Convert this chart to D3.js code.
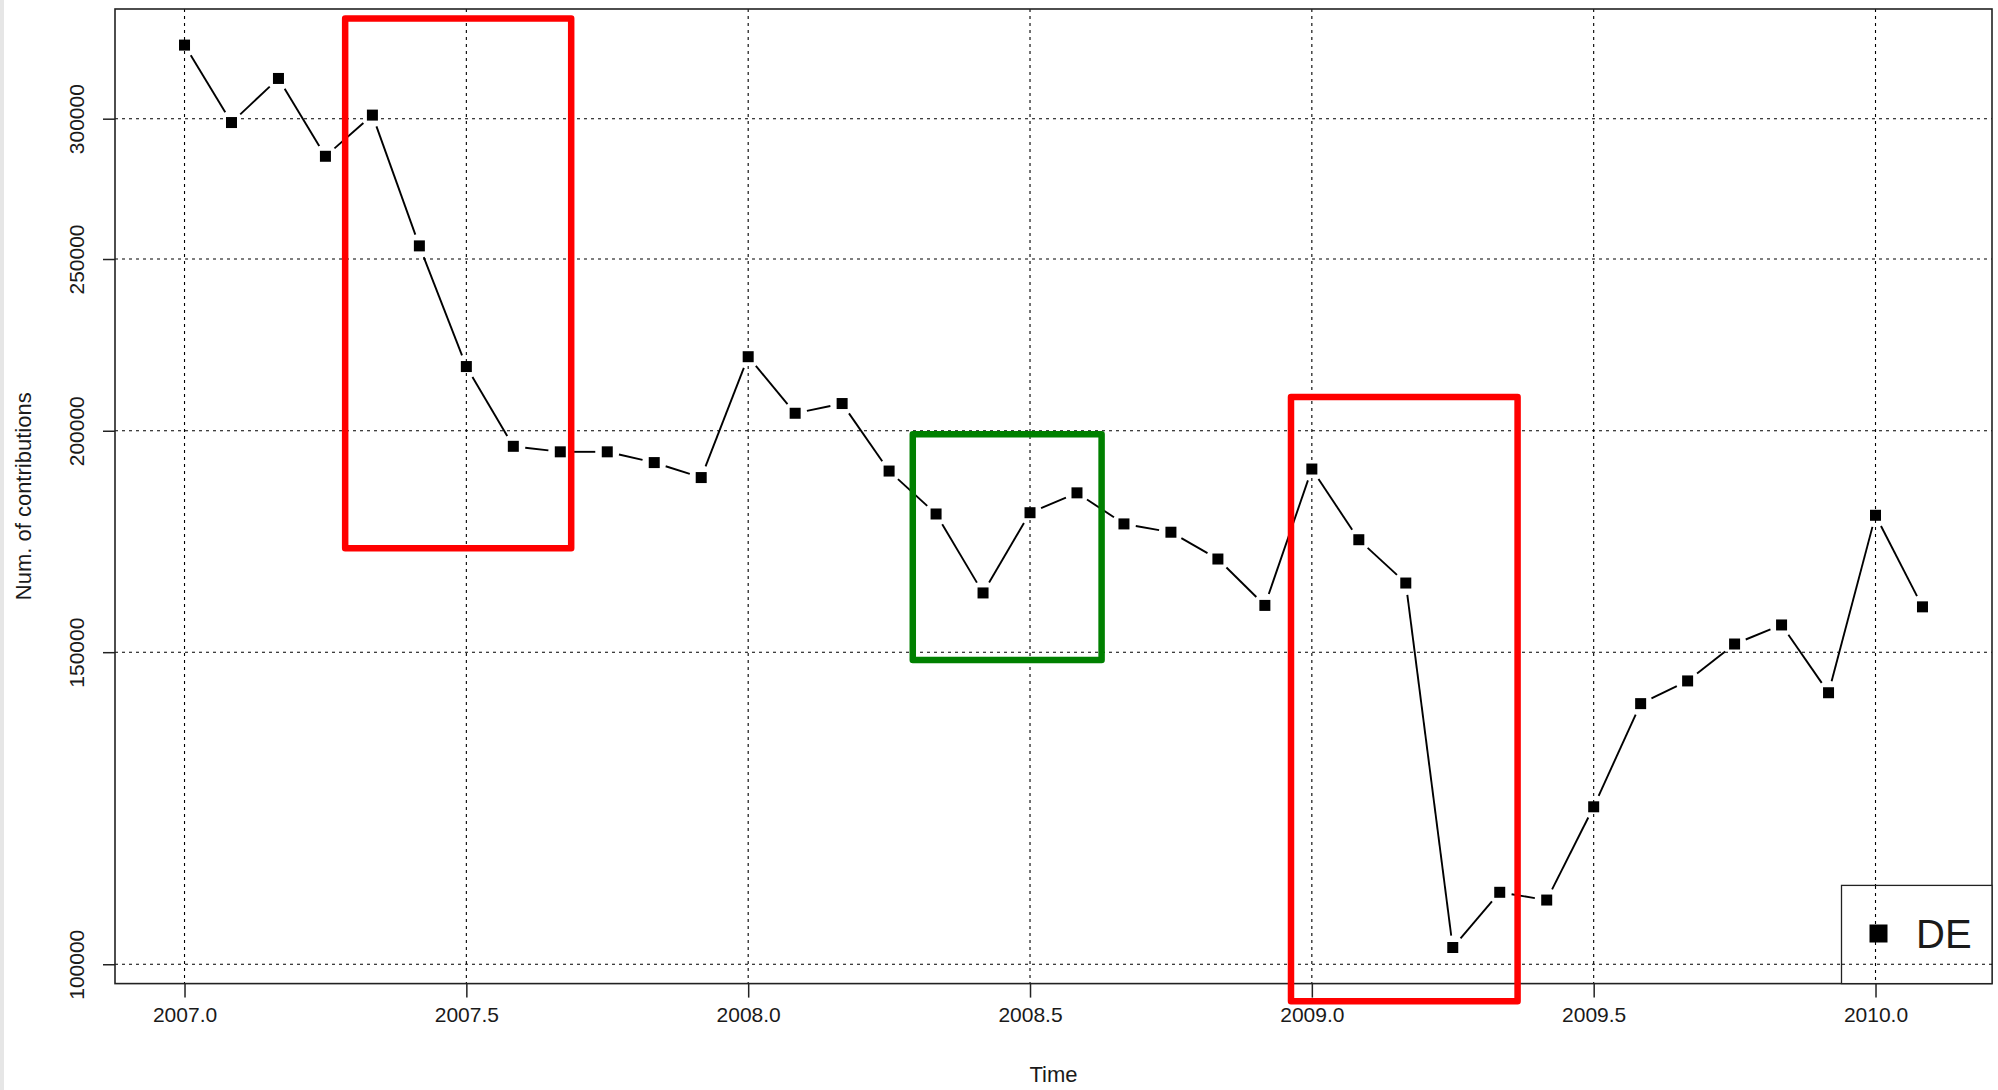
<!DOCTYPE html>
<html>
<head>
<meta charset="utf-8">
<script src="https://cdn.jsdelivr.net/npm/d3@7"></script>
<style>
  html, body { margin: 0; padding: 0; background: #ffffff; }
  svg { display: block; }
  text { font-family: "Liberation Sans", Arial, Helvetica, sans-serif; fill: #1a1a1a; }
</style>
</head>
<body>
<script>
// ---- data ----
const startYear = 2007.0;
const stepYear = 1 / 12;
const values = [
  330100, 298500, 316100, 285700, 301400, 254300, 217400, 196000, 194600, 194600,
  191900, 188200, 220200, 204600, 207200, 189800, 179500, 162000, 179800, 184500,
  177200, 175300, 169300, 159400, 190300, 173600, 164100, 102200, 109800, 108700,
  122700, 140300, 144500, 151600, 155400, 142300, 179200, 159100
];
const xTicks = [2007.0, 2007.5, 2008.0, 2008.5, 2009.0, 2009.5, 2010.0];
const yTicks = [100000, 150000, 200000, 250000, 300000];
const seriesNames = ["DE"];
const xLabel = "Time";
const yLabel = "Num. of contributions";
// highlight boxes in data units: [x0, x1, yTop, yBottom]
const boxX0 = [2007.285, 2008.292, 2008.963];
const boxX1 = [2007.686, 2008.627, 2009.365];
const boxYTop = [341700, 199100, 209000];
const boxYBottom = [171700, 148500, 95300];
const boxColors = ["#ff0000", "#008000", "#ff0000"];

// ---- layout ----
const W = 1998, H = 1090;
const plot = { left: 115, right: 1992, top: 9, bottom: 983.6 };

const svg = d3.select("body").append("svg").attr("width", W).attr("height", H);
svg.append("rect").attr("x", 0).attr("y", 0).attr("width", W).attr("height", H).attr("fill", "#fff");
svg.append("rect").attr("x", 0).attr("y", 0).attr("width", 4).attr("height", H).attr("fill", "#e6e6e6");

const times = values.map((v, i) => startYear + i * stepYear);
const data = values.map((v, i) => ({ t: times[i], v }));

// R-style 4% axis expansion
const tMin = d3.min(times), tMax = d3.max(times);
const tPad = (tMax - tMin) * 0.04;
const lMin = Math.log(d3.min(values)), lMax = Math.log(d3.max(values));
const lPad = (lMax - lMin) * 0.04;

const x = d3.scaleLinear().domain([tMin - tPad, tMax + tPad]).range([plot.left, plot.right]);
const y = d3.scaleLog().domain([Math.exp(lMin - lPad), Math.exp(lMax + lPad)]).range([plot.bottom, plot.top]);

// grid
const grid = svg.append("g");
grid.selectAll("line.gx").data(xTicks).join("line")
  .attr("x1", d => x(d)).attr("x2", d => x(d))
  .attr("y1", plot.top).attr("y2", plot.bottom)
  .attr("stroke", "#000").attr("stroke-width", 1.1).attr("stroke-dasharray", "3,4");
grid.selectAll("line.gy").data(yTicks).join("line")
  .attr("x1", plot.left).attr("x2", plot.right)
  .attr("y1", d => y(d)).attr("y2", d => y(d))
  .attr("stroke", "#000").attr("stroke-width", 1.1).attr("stroke-dasharray", "3,4");

// axes
const xAxis = d3.axisBottom(x).tickValues(xTicks).tickFormat(d3.format(".1f")).tickSize(14).tickPadding(20);
const gx = svg.append("g").attr("transform", `translate(0,${plot.bottom})`).call(xAxis);
gx.select(".domain").remove();
gx.selectAll(".tick line").attr("stroke", "#222").attr("stroke-width", 1.5);
gx.selectAll(".tick text").attr("font-size", 21).attr("fill", "#1a1a1a")
  .attr("font-family", "'Liberation Sans', Arial, sans-serif").attr("dy", "0.2em");

const yAxis = d3.axisLeft(y).tickValues(yTicks).tickFormat(d3.format("d")).tickSize(12);
const gy = svg.append("g").attr("transform", `translate(${plot.left},0)`).call(yAxis);
gy.select(".domain").remove();
gy.selectAll(".tick line").attr("stroke", "#222").attr("stroke-width", 1.5);
gy.selectAll(".tick text")
  .attr("font-size", 21).attr("fill", "#1a1a1a")
  .attr("font-family", "'Liberation Sans', Arial, sans-serif")
  .attr("text-anchor", "middle")
  .attr("x", null).attr("dy", null)
  .attr("transform", "translate(-31,0) rotate(-90)");

// plot box
svg.append("rect")
  .attr("x", plot.left).attr("y", plot.top)
  .attr("width", plot.right - plot.left).attr("height", plot.bottom - plot.top)
  .attr("fill", "none").attr("stroke", "#222").attr("stroke-width", 1.6);

// lines with gaps (R type = "b")
const gap = 12;
const segs = [];
for (let i = 0; i < data.length - 1; i++) {
  const x0 = x(data[i].t), y0 = y(data[i].v), x1 = x(data[i + 1].t), y1 = y(data[i + 1].v);
  const len = Math.hypot(x1 - x0, y1 - y0);
  if (len > 2 * gap) {
    const ux = (x1 - x0) / len, uy = (y1 - y0) / len;
    segs.push([x0 + ux * gap, y0 + uy * gap, x1 - ux * gap, y1 - uy * gap]);
  }
}
svg.append("g").selectAll("line").data(segs).join("line")
  .attr("x1", d => d[0]).attr("y1", d => d[1]).attr("x2", d => d[2]).attr("y2", d => d[3])
  .attr("stroke", "#000").attr("stroke-width", 1.9);

// markers
const ms = 11;
svg.append("g").selectAll("rect").data(data).join("rect")
  .attr("x", d => x(d.t) - ms / 2).attr("y", d => y(d.v) - ms / 2)
  .attr("width", ms).attr("height", ms).attr("fill", "#000");

// legend
const lg = svg.append("g");
lg.append("rect").attr("x", 1841.5).attr("y", 885.4).attr("width", plot.right - 1841.5).attr("height", plot.bottom - 885.4)
  .attr("fill", "#fff").attr("stroke", "#222").attr("stroke-width", 1.3);
lg.selectAll("rect.sym").data(seriesNames).join("rect").attr("class", "sym")
  .attr("x", 1869.5).attr("y", 924.5).attr("width", 18).attr("height", 18).attr("fill", "#000");
lg.selectAll("text").data(seriesNames).join("text")
  .attr("x", 1916).attr("y", 948).attr("font-size", 40).attr("fill", "#000").text(d => d);

// gridlines passing through the legend box as in the reference
svg.append("line").attr("x1", x(2010)).attr("x2", x(2010)).attr("y1", 886).attr("y2", plot.bottom)
  .attr("stroke", "#000").attr("stroke-width", 1.1).attr("stroke-dasharray", "3,4");
svg.append("line").attr("x1", 1842).attr("x2", plot.right).attr("y1", y(100000)).attr("y2", y(100000))
  .attr("stroke", "#000").attr("stroke-width", 1.1).attr("stroke-dasharray", "3,4");

// axis titles
svg.append("text").attr("x", (plot.left + plot.right) / 2).attr("y", 1082)
  .attr("text-anchor", "middle").attr("font-size", 22).text(xLabel);
svg.append("text").attr("transform", `translate(31,${(plot.top + plot.bottom) / 2}) rotate(-90)`)
  .attr("text-anchor", "middle").attr("font-size", 22).text(yLabel);

// highlight boxes
svg.append("g").selectAll("rect").data(boxX0.map((d, i) => i)).join("rect")
  .attr("x", i => x(boxX0[i])).attr("y", i => y(boxYTop[i]))
  .attr("width", i => x(boxX1[i]) - x(boxX0[i]))
  .attr("height", i => y(boxYBottom[i]) - y(boxYTop[i]))
  .attr("fill", "none").attr("stroke", i => boxColors[i]).attr("stroke-width", 6.5)
  .attr("stroke-linejoin", "round");
</script>
</body>
</html>
